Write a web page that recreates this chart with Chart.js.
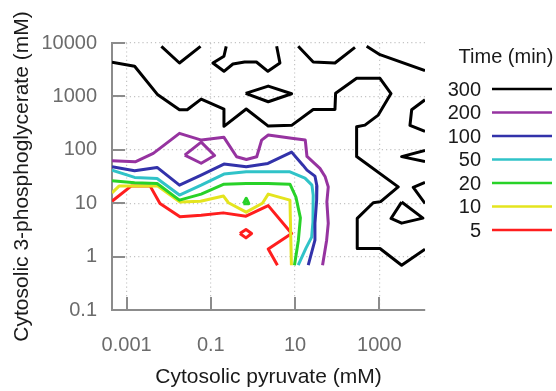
<!DOCTYPE html>
<html>
<head>
<meta charset="utf-8">
<script src="https://cdn.jsdelivr.net/npm/chart.js@4"></script>
<style>
  body { margin: 0; background: #fff; }
  canvas { display: block; }
</style>
</head>
<body>
<canvas id="chart" width="556" height="391"></canvas>
<script>
// contour levels (Time, min) and their colours
const levels = ['300', '200', '100', '50', '20', '10', '5'];
const levelColors = ['#000000', '#9633a0', '#3232aa', '#30c3c8', '#28d228', '#e4e41e', '#ff1e1e'];

// axis ticks
const xTicks = [0.001, 0.1, 10, 1000];
const xTickLabels = ['0.001', '0.1', '10', '1000'];
const yTicks = [0.1, 1, 10, 100, 1000, 10000];
const yTickLabels = ['0.1', '1', '10', '100', '1000', '10000'];

// contour pieces, [pyruvate mM, 3-phosphoglycerate mM]
const t300a = [[0.0067, 8670], [0.018, 4220], [0.057, 8670]];
const t300b = [[0.232, 8670], [0.205, 5640], [0.112, 4220], [0.205, 2950], [0.335, 4040], [0.635, 4410], [1.21, 4410], [2.27, 2950], [4.38, 4220], [3.66, 8670]];
const t300c = [[11.9, 8670], [27, 4410], [88.7, 4220], [265, 8300]];
const t300d = [[502, 8670], [1040, 6040], [12200, 3030]];
const t300e = [[0.671, 1140], [2.31, 1560], [8.3, 1120], [2.31, 794], [0.671, 1140]];
const t300f = [[0.00045, 4350], [0.00155, 3660], [0.0055, 1070], [0.018, 562], [0.0275, 562], [0.059, 891], [0.205, 580], [0.205, 275], [0.693, 580], [2.31, 278], [8.3, 287], [27, 570], [88.7, 570], [92, 1150], [290, 2180], [1040, 2180], [1900, 1130], [946, 447], [457, 290], [290, 270], [290, 75], [2820, 20.2], [1080, 10.7], [720, 10.2], [300, 5.2], [300, 1.42], [1040, 1.42], [3400, 0.69], [12200, 1.38]];
const t300g = [[12200, 865], [5890, 562], [5360, 287], [12200, 221]];
const t300h = [[12200, 97], [3400, 74.5], [12200, 60]];
const t300i = [[12200, 24.5], [6420, 19.8], [12200, 9.9]];
const t300j = [[3400, 10.5], [1900, 5.18], [3400, 4.23], [10900, 5.25], [3400, 10.5]];

const t200a = [[0.00045, 62.2], [0.0016, 59.6], [0.0043, 85.5], [0.018, 203], [0.06, 152], [0.205, 171], [0.41, 74], [0.70, 66], [1.23, 74], [1.61, 152], [2.31, 189], [8.3, 164], [17.5, 152], [19.2, 75], [39, 44.8], [52, 31.2], [61.5, 20.2], [57, 10.6], [61.5, 4.2], [56.3, 2.03], [45, 0.69]];
const t200b = [[0.024, 79.6], [0.059, 139], [0.123, 78], [0.059, 56], [0.024, 79.6]];

const t100 = [[0.00045, 48], [0.00155, 40.4], [0.0053, 46.8], [0.018, 21.8], [0.059, 33.6], [0.205, 54], [0.693, 48], [2.27, 55.6], [8.3, 90.5], [15.4, 51.6], [19.2, 41.7], [29.7, 32.2], [33.1, 20.9], [32.6, 11.4], [29.7, 4.23], [29.7, 2.03], [20.6, 0.69]];

const t50 = [[0.00045, 41.7], [0.00155, 30.4], [0.0053, 29.1], [0.018, 14.2], [0.059, 21.8], [0.205, 35.1], [0.693, 38.7], [2.27, 38.7], [7.57, 38.7], [17.2, 29.5], [25.2, 21.8], [27, 14.2], [26.6, 4.41], [24.8, 2.31], [18.2, 1.44], [11.9, 0.69]];

const t20a = [[0.00045, 26.3], [0.00155, 24.1], [0.0053, 23.4], [0.018, 11.4], [0.059, 14.8], [0.205, 22.7], [0.693, 23.4], [2.27, 23.4], [7.57, 22.7], [10.5, 13], [13.4, 5.3], [12, 2.03], [9.7, 0.69]];
const t20b = [[0.594, 9.8], [0.693, 12.4], [0.80, 9.8], [0.594, 9.8]];

const t10 = [[0.00045, 15.6], [0.00066, 20.9], [0.00155, 20.9], [0.0055, 20.9], [0.0185, 10.5], [0.057, 10.9], [0.20, 13.6], [0.262, 10.2], [0.693, 6.79], [1.68, 10.0], [2.31, 14.8], [7.57, 11.4], [8.2, 0.69]];

const t5a = [[0.00045, 10.9], [0.0013, 21.1], [0.0036, 21.1], [0.0062, 9.9], [0.0185, 5.55], [0.059, 5.97], [0.197, 6.59], [0.684, 5.71], [2.31, 9.0], [8.3, 2.71], [2.31, 1.39], [3.82, 0.69]];
const t5b = [[0.49, 2.71], [0.684, 3.22], [0.93, 2.71], [0.684, 2.24], [0.49, 2.71]];

const pieces = [
  [t300a, t300b, t300c, t300d, t300e, t300f, t300g, t300h, t300i, t300j],
  [t200a, t200b],
  [t100],
  [t50],
  [t20a, t20b],
  [t10],
  [t5a, t5b]
];

const axisGray = '#8c8c8c';
const fontFamily = '"Liberation Sans", Arial, sans-serif';

const datasets = [];
pieces.forEach((list, i) => {
  list.forEach(p => {
    datasets.push({
      label: levels[i],
      data: p.map(d => ({ x: d[0], y: d[1] })),
      borderColor: levelColors[i],
      borderWidth: 3,
      showLine: true,
      pointRadius: 0,
      tension: 0,
      borderJoinStyle: 'round'
    });
  });
});

// short tick marks pointing into the plot
const inwardTicks = {
  id: 'inwardTicks',
  afterDatasetsDraw(chart) {
    const { ctx, chartArea: a, scales: { x, y } } = chart;
    ctx.save();
    ctx.strokeStyle = axisGray;
    ctx.lineWidth = 2;
    xTicks.forEach(v => {
      const px = Math.round(x.getPixelForValue(v));
      ctx.beginPath();
      ctx.moveTo(px, a.bottom);
      ctx.lineTo(px, a.bottom - 13);
      ctx.stroke();
    });
    yTicks.forEach(v => {
      const py = Math.round(y.getPixelForValue(v));
      ctx.beginPath();
      ctx.moveTo(a.left, py);
      ctx.lineTo(a.left + 13, py);
      ctx.stroke();
    });
    ctx.restore();
  }
};

// legend: label on the left, line on the right
const sideLegend = {
  id: 'sideLegend',
  afterDraw(chart) {
    const ctx = chart.ctx;
    ctx.save();
    ctx.fillStyle = '#1a1a1a';
    ctx.font = '20px ' + fontFamily;
    ctx.textBaseline = 'middle';
    ctx.textAlign = 'center';
    ctx.fillText('Time (min)', 506, 57);
    ctx.textAlign = 'right';
    levels.forEach((lv, i) => {
      const yy = 89 + i * 23.5;
      ctx.fillStyle = '#1a1a1a';
      ctx.fillText(lv, 481, yy + 1);
      ctx.strokeStyle = levelColors[i];
      ctx.lineWidth = 2.5;
      ctx.beginPath();
      ctx.moveTo(492, yy);
      ctx.lineTo(552, yy);
      ctx.stroke();
    });
    ctx.restore();
  }
};

new Chart(document.getElementById('chart'), {
  type: 'scatter',
  data: { datasets },
  plugins: [inwardTicks, sideLegend],
  options: {
    responsive: false,
    animation: false,
    devicePixelRatio: 1,
    layout: { padding: { top: 43, right: 131, left: 0, bottom: 0 } },
    plugins: { legend: { display: false }, tooltip: { enabled: false } },
    scales: {
      x: {
        type: 'logarithmic',
        min: 0.00045,
        max: 12200,
        afterBuildTicks(scale) { scale.ticks = xTicks.map(v => ({ value: v })); },
        afterFit(scale) { scale.height = 81; },
        ticks: {
          autoSkip: false,
          maxRotation: 0,
          padding: 23,
          color: '#6b6b6b',
          font: { size: 20, family: fontFamily },
          callback: v => xTickLabels[xTicks.indexOf(v)]
        },
        grid: { color: '#c4c4c4', lineWidth: 1.2, drawTicks: false },
        border: { display: true, color: axisGray, width: 2, dash: [1.2, 3] },
        title: {
          display: true,
          text: 'Cytosolic pyruvate (mM)',
          color: '#1a1a1a',
          font: { size: 21, family: fontFamily },
          padding: { top: 0, bottom: 1 }
        }
      },
      y: {
        type: 'logarithmic',
        min: 0.1,
        max: 10000,
        afterBuildTicks(scale) { scale.ticks = yTicks.map(v => ({ value: v })); },
        afterFit(scale) { scale.width = 112; },
        ticks: {
          autoSkip: false,
          padding: 15,
          color: '#6b6b6b',
          font: { size: 20, family: fontFamily },
          callback: v => yTickLabels[yTicks.indexOf(v)]
        },
        grid: { color: '#c4c4c4', lineWidth: 1.2, drawTicks: false },
        border: { display: true, color: axisGray, width: 2, dash: [1.2, 3] },
        title: {
          display: true,
          text: 'Cytosolic 3-phosphoglycerate (mM)',
          color: '#1a1a1a',
          font: { size: 21, family: fontFamily },
          padding: { top: 10, bottom: 0 }
        }
      }
    }
  }
});
</script>
</body>
</html>
